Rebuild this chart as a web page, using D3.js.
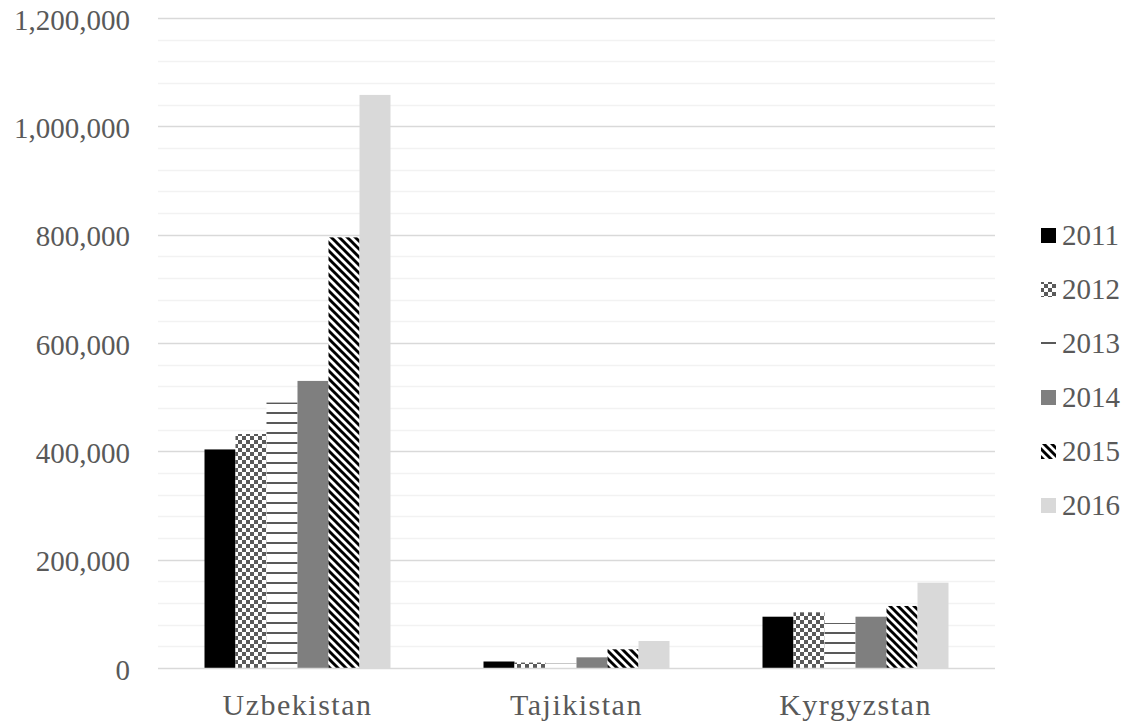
<!DOCTYPE html>
<html><head><meta charset="utf-8">
<script src="https://cdn.jsdelivr.net/npm/d3@7"></script>
<style>body{margin:0;background:#fff}svg{display:block}</style>
</head><body>
<svg id="c" width="1131" height="722"></svg>
<script>
const categories = ["Uzbekistan", "Tajikistan", "Kyrgyzstan"];
const years = ["2011", "2012", "2013", "2014", "2015", "2016"];
const values2011 = [403500, 12000, 94700];
const values2012 = [432000, 10000, 102800];
const values2013 = [490000, 8000, 83000];
const values2014 = [530000, 19700, 94700];
const values2015 = [795000, 34500, 114500];
const values2016 = [1058000, 49800, 157500];
const seriesValues = [values2011, values2012, values2013, values2014, values2015, values2016];
const yTicks = [0, 200000, 400000, 600000, 800000, 1000000, 1200000];

(function () {
const svg = d3.select("#c");
const pLeft = 158, pRight = 995, pTop = 18, pBottom = 668;
const FONT = "'Liberation Serif', serif";
const TXT = "#595959";

const defs = svg.append("defs");
// checkerboard
const pc = defs.append("pattern").attr("id", "p2012").attr("patternUnits", "userSpaceOnUse")
  .attr("width", 8).attr("height", 8);
pc.append("rect").attr("width", 8).attr("height", 8).attr("fill", "#fff");
pc.append("rect").attr("width", 4).attr("height", 4).attr("fill", "#5a5a5a");
pc.append("rect").attr("x", 4).attr("y", 4).attr("width", 4).attr("height", 4).attr("fill", "#5a5a5a");
// horizontal lines
const ph = defs.append("pattern").attr("id", "p2013").attr("patternUnits", "userSpaceOnUse")
  .attr("width", 10).attr("height", 10);
ph.append("rect").attr("width", 10).attr("height", 10).attr("fill", "#fff");
ph.append("rect").attr("y", 2).attr("width", 10).attr("height", 2).attr("fill", "#595959");
// diagonal
const pd = defs.append("pattern").attr("id", "p2015").attr("patternUnits", "userSpaceOnUse")
  .attr("width", 8).attr("height", 8);
pd.append("rect").attr("width", 8).attr("height", 8).attr("fill", "#fff");
pd.append("path").attr("d", "M-2,-2L10,10M-2,6L2,10M6,-2L10,2")
  .attr("stroke", "#000").attr("stroke-width", 2.9);

const fills = ["#000000", "url(#p2012)", "url(#p2013)", "#7f7f7f", "url(#p2015)", "#d9d9d9"];

const y = d3.scaleLinear().domain([0, 1200000]).range([pBottom, pTop]);
const x0 = d3.scaleBand().domain(categories).range([pLeft, pRight]);
const bw = x0.bandwidth();
const x1 = d3.scaleBand().domain(years).range([bw / 6, bw * 5 / 6]);

// minor gridlines
const minor = d3.range(0, 1200001, 40000).filter(v => v % 200000 !== 0);
svg.append("g").selectAll("line").data(minor).join("line")
  .attr("x1", pLeft).attr("x2", pRight)
  .attr("y1", d => Math.round(y(d)) + 0.5).attr("y2", d => Math.round(y(d)) + 0.5)
  .attr("stroke", "#f2f2f2").attr("stroke-width", 1.5);
// major gridlines
svg.append("g").selectAll("line").data(yTicks.slice(1)).join("line")
  .attr("x1", pLeft).attr("x2", pRight)
  .attr("y1", d => Math.round(y(d)) + 0.5).attr("y2", d => Math.round(y(d)) + 0.5)
  .attr("stroke", "#d9d9d9").attr("stroke-width", 1.5);

// y axis labels
const yAxis = d3.axisLeft(y).tickValues(yTicks).tickFormat(d3.format(",")).tickSize(0).tickPadding(0);
const ya = svg.append("g").attr("transform", "translate(130,0)").call(yAxis);
ya.select(".domain").remove();
ya.selectAll("text").attr("font-family", FONT).attr("font-size", 29).attr("fill", TXT)
  .attr("dy", null).attr("y", 11).attr("x", 0);

// bars
const gs = svg.append("g").selectAll("g").data(categories).join("g")
  .attr("transform", d => `translate(${x0(d)},0)`);
gs.selectAll("rect").data((c, ci) => years.map((yr, si) => ({yr, si, v: seriesValues[si][ci]})))
  .join("rect")
  .attr("x", d => x1(d.yr)).attr("width", x1.bandwidth())
  .attr("y", d => y(d.v)).attr("height", d => pBottom - y(d.v))
  .attr("fill", d => fills[d.si]);

// x axis line
svg.append("line").attr("x1", pLeft).attr("x2", pRight).attr("y1", pBottom + 0.5).attr("y2", pBottom + 0.5)
  .attr("stroke", "#d9d9d9").attr("stroke-width", 1.5);

// x axis labels
const xAxis = d3.axisBottom(x0).tickSize(0).tickPadding(0);
const xa = svg.append("g").attr("transform", `translate(0,${pBottom})`).call(xAxis);
xa.select(".domain").remove();
xa.selectAll("text").attr("font-family", FONT).attr("font-size", 30).attr("fill", TXT)
  .attr("letter-spacing", 1.5).attr("dy", null).attr("y", 47);

// legend
const lg = svg.append("g").selectAll("g").data(years).join("g");
lg.append("rect").attr("x", 1041).attr("y", (d, i) => 228 + i * 54).attr("width", 15).attr("height", 15)
  .attr("fill", (d, i) => fills[i]);
lg.append("text").attr("x", 1062).attr("y", (d, i) => 245 + i * 54).text(d => d)
  .attr("font-family", FONT).attr("font-size", 29).attr("fill", TXT);
})();
</script>
</body></html>
